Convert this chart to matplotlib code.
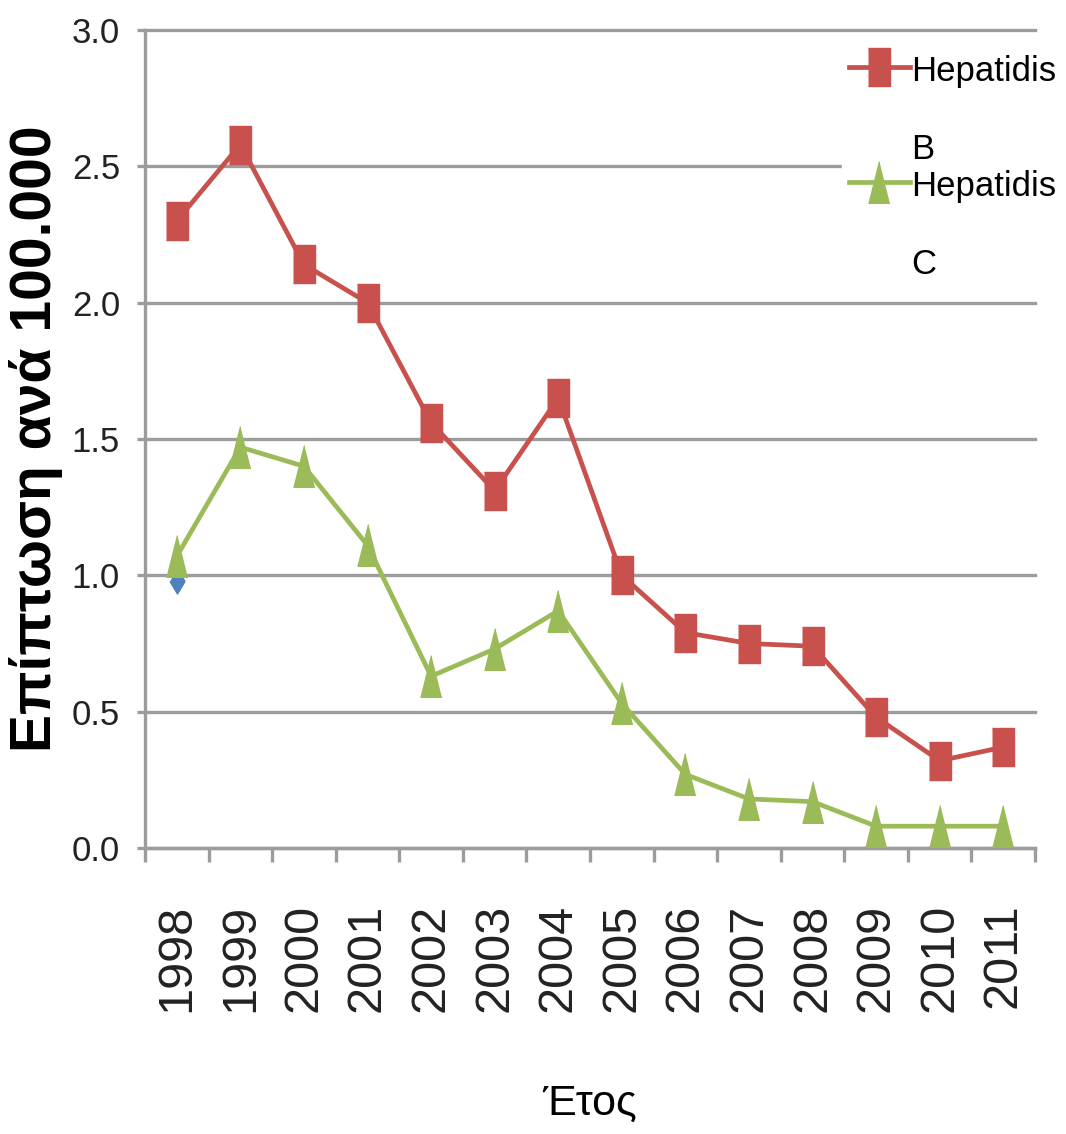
"""Hepatitis B / C incidence per 100,000, 1998-2011."""
import matplotlib
matplotlib.use("Agg")
import matplotlib.pyplot as plt

YEARS = [1998, 1999, 2000, 2001, 2002, 2003, 2004, 2005, 2006, 2007, 2008, 2009, 2010, 2011]
HEP_B = [2.30, 2.58, 2.14, 2.00, 1.56, 1.31, 1.65, 1.00, 0.79, 0.75, 0.74, 0.48, 0.32, 0.37]
HEP_C = [1.07, 1.47, 1.40, 1.11, 0.63, 0.73, 0.87, 0.53, 0.27, 0.18, 0.17, 0.08, 0.08, 0.08]
EXTRA = [0.98]          # lone point of the unlabeled first series
Y_TICKS = [0.0, 0.5, 1.0, 1.5, 2.0, 2.5, 3.0]

RED, GREEN, BLUE, GRAY = "#C8504D", "#9BBB59", "#4F81BD", "#9C9C9C"
FONT = "Liberation Sans"

# tall, narrow marker shapes
SQUARE = [(-0.58, -1), (0.58, -1), (0.58, 1), (-0.58, 1)]
TRIANGLE = [(0, 1), (-0.5, -1), (0.5, -1)]
DIAMOND = [(0, 1), (0.6, 0), (0, -1), (-0.6, 0)]

W, H = 1066, 1134
fig = plt.figure(figsize=(W / 100, H / 100), dpi=100)
ax = fig.add_axes([145 / W, (H - 848) / H, (1035 - 145) / W, (848 - 30) / H])

x = list(range(len(YEARS)))
ax.plot(x[:len(EXTRA)], EXTRA, ls="none", marker=DIAMOND, ms=18, color=BLUE, zorder=3)
ax.plot(x, HEP_B, color=RED, lw=3.4, marker=SQUARE, ms=28, label="Hepatidis\nB", zorder=4)
ax.plot(x, HEP_C, color=GREEN, lw=3.4, marker=TRIANGLE, ms=30, label="Hepatidis\nC", zorder=5)

ax.set_xlim(-0.5, len(YEARS) - 0.5)
ax.set_ylim(0, 3.0)
ax.set_yticks(Y_TICKS)
ax.set_yticklabels([f"{v:.1f}" for v in Y_TICKS])
ax.set_xticks(x)
ax.set_xticklabels([str(y) for y in YEARS], rotation=90)
ax.set_xticks([i - 0.5 for i in range(len(YEARS) + 1)], minor=True)

ax.yaxis.grid(True, color=GRAY, lw=2.4)
for gl in ax.get_ygridlines():
    gl.set_clip_on(False)
ax.set_axisbelow(True)

for side in ["top", "right"]:
    ax.spines[side].set_visible(False)
for side in ["left", "bottom"]:
    ax.spines[side].set_color(GRAY)
    ax.spines[side].set_linewidth(2.4)

ax.tick_params(axis="y", direction="out", length=6, width=2.4, color=GRAY, pad=12,
               labelsize=25, labelcolor="#222222")
ax.tick_params(axis="x", which="major", length=0, pad=40, labelsize=35, labelcolor="#222222")
ax.tick_params(axis="x", which="minor", direction="out", length=10, width=2.4, color=GRAY)
for lab in ax.get_xticklabels() + ax.get_yticklabels():
    lab.set_family(FONT)

ax.set_ylabel("Επίπτωση ανά 100.000", fontsize=41, fontweight="bold", family=FONT)
ax.yaxis.set_label_coords(-0.092, 0.5)
ax.set_xlabel("Έτος", fontsize=31, family=FONT, labelpad=52)

leg = ax.legend(loc="upper left", bbox_to_anchor=(842 / W, 1 - 48 / H),
                bbox_transform=fig.transFigure, frameon=True, fancybox=False,
                framealpha=1, edgecolor="white", borderpad=0.2, handlelength=1.75,
                handletextpad=0.05, labelspacing=0.1, borderaxespad=0,
                prop={"family": FONT, "size": 25})
leg.set_zorder(10)
for col in leg._legend_handle_box.get_children():
    for row in col.get_children():
        row.align = "top"
for t in leg.get_texts():
    t.set_linespacing(2.75)

fig.savefig("out.png", dpi=100)
